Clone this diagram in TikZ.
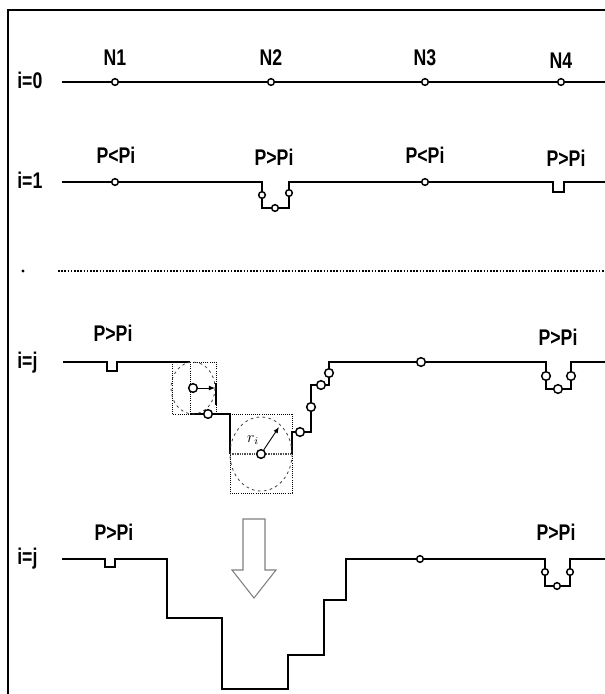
\documentclass[tikz,border=0pt]{standalone}
\usepackage{fontspec}
\setmainfont{Liberation Sans}[FakeStretch=0.78]
\usetikzlibrary{arrows.meta, positioning}

\begin{document}
\begin{tikzpicture}[
  x=0.75pt, y=-0.75pt,
  wire/.style={line width=1.5pt},
  knot/.style={circle, draw, line width=1.1pt, fill=white, inner sep=0pt, minimum size=5pt},
  bigknot/.style={knot, minimum size=6.5pt},
  lbl/.style={font=\fontsize{17}{19}\selectfont\bfseries, inner sep=1pt},
  nlbl/.style={lbl},
  rowlbl/.style={font=\fontsize{17}{19}\selectfont\bfseries, anchor=base west, inner sep=0pt},
  guide/.style={densely dotted, line width=0.6pt},
  ring/.style={dash pattern=on 2pt off 2.5pt, line width=0.6pt, black!75},
  hatch/.style={line width=2.2pt, black!70, dash pattern=on 1pt off 0.8pt},
  ptr/.style={-{Latex[length=1.6mm, width=1.3mm]}, line width=0.7pt}
]
  \useasboundingbox (0,0) rectangle (605,694);
  % frame
  \draw[line width=1.4pt] (8,694) -- (8,10) -- (605,10);

  % row i=0
  \node[rowlbl] (row0) at (17,88) {i=0};
  \coordinate (a0) at (62,82);
  \coordinate (b0) at (605,82);
  \draw[wire] (a0) -- (b0);
  \node[knot] (n1) at (115,82) {};
  \node[knot] (n2) at (271,82) {};
  \node[knot] (n3) at (425,82) {};
  \node[knot] (n4) at (561,82) {};
  \node[nlbl, above=8pt of n1] (n1lbl) {N1};
  \node[nlbl, above=8pt of n2] (n2lbl) {N2};
  \node[nlbl, above=8pt of n3] (n3lbl) {N3};
  \node[nlbl, above=6pt of n4] (n4lbl) {N4};

  % row i=1
  \node[rowlbl] (row1) at (17,188) {i=1};
  \draw[wire] (62,182) -- (262,182) -- (262,208) -- (289,208) -- (289,182)
    -- (553,182) -- (553,192) -- (564,192) -- (564,182) -- (605,182);
  \node[knot] (p1) at (115,182) {};
  \node[knot] (p2a) at (262,195) {};
  \node[knot] (p2b) at (275,208) {};
  \node[knot] (p2c) at (289,193) {};
  \node[knot] (p3) at (425,182) {};
  \node[lbl] (p1lbl) at (116,155) {P<Pi};
  \node[lbl] (p2lbl) at (274,157) {P>Pi};
  \node[lbl] (p3lbl) at (425,155) {P<Pi};
  \node[lbl] (p4lbl) at (566,158) {P>Pi};

  % dots
  \fill (23,271) circle (1.6);
  \draw[line width=1.2pt, dash pattern=on 1.2pt off 1.2pt] (58,271) -- (605,271);

  % row i=j, with the fitted circles
  \node[rowlbl] (rowj) at (17,368) {i=j};
  \draw[wire] (63,362) -- (107,362) -- (107,371) -- (117,371) -- (117,362) -- (190,362);
  \draw[wire] (216,383) -- (216,405);
  \draw[wire] (190,414) -- (230,414) -- (230,454);
  \draw[hatch] (230,454) -- (292,454);
  \draw[wire] (292,454) -- (292,432) -- (311,432) -- (311,385) -- (329,385) -- (329,362)
    -- (546,362) -- (546,389) -- (571,389) -- (571,362) -- (605,362);
  \draw[guide] (172,362) rectangle (216,414);
  \draw[guide] (190,362) -- (190,414);
  \draw[guide] (230,414) rectangle (292,493);
  \draw[ring] (193,388) ellipse [x radius=22, y radius=26];
  \draw[ring] (261,454) ellipse [x radius=31, y radius=37];
  \node[bigknot] (c1) at (193,388) {};
  \node[bigknot] (c2) at (208,414) {};
  \node[bigknot] (c3) at (261,454) {};
  \node[bigknot] (c4) at (300,432) {};
  \node[bigknot] (c5) at (311,407) {};
  \node[bigknot] (c6) at (321,385) {};
  \node[bigknot] (c7) at (329,373) {};
  \node[bigknot] (c8) at (421,362) {};
  \node[bigknot] (d1) at (546,376) {};
  \node[bigknot] (d2) at (558,389) {};
  \node[bigknot] (d3) at (571,376) {};
  \coordinate (t1) at (215,388);
  \coordinate (t2) at (279,427);
  \draw[ptr] (c1) -- (t1);
  \draw[ptr] (c3) -- (t2);
  \node[font=\fontsize{12}{13}\selectfont] (rlbl) at (253,440) {$r_i$};
  \node[lbl] (q1lbl) at (113,333) {P>Pi};
  \node[lbl] (q4lbl) at (558,337) {P>Pi};

  % row i=j, result
  \node[rowlbl] (rowk) at (17,564) {i=j};
  \draw[wire] (62,559) -- (105,559) -- (105,567) -- (115,567) -- (115,559) -- (167,559)
    -- (167,618) -- (222,618) -- (222,689) -- (288,689) -- (288,655) -- (324,655)
    -- (324,600) -- (346,600) -- (346,559) -- (545,559) -- (545,586) -- (570,586)
    -- (570,559) -- (605,559);
  \node[knot] (e3) at (420,559) {};
  \node[knot] (e4a) at (545,572) {};
  \node[knot] (e4b) at (557,586) {};
  \node[knot] (e4c) at (570,572) {};
  \node[lbl] (s1lbl) at (114,532) {P>Pi};
  \node[lbl] (s4lbl) at (556,532) {P>Pi};
  \draw[gray, line width=0.8pt] (243,519) -- (265,519) -- (265,570) -- (276,570)
    -- (254,598) -- (232,570) -- (243,570) -- cycle;
\end{tikzpicture}
\end{document}
